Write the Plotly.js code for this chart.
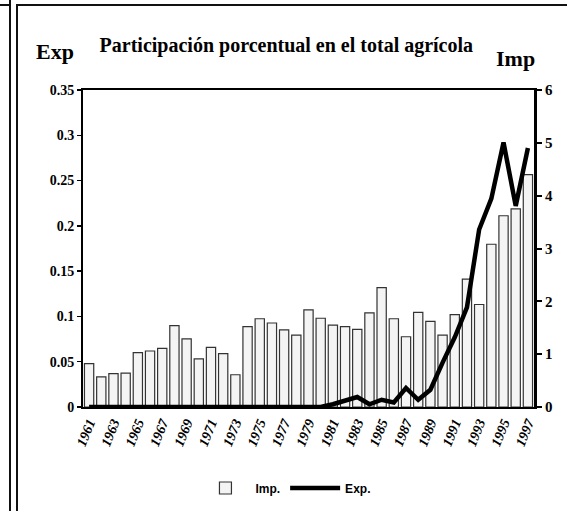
<!DOCTYPE html>
<html>
<head>
<meta charset="utf-8">
<script src="https://cdn.plot.ly/plotly-3.0.1.min.js"></script>
<style>
html,body{margin:0;padding:0;background:#fff;}
#wrap{position:relative;width:567px;height:511px;overflow:hidden;}
#chart{position:absolute;left:0;top:0;width:567px;height:511px;}
.ln{position:absolute;background:#111;}
</style>
</head>
<body>
<div id="wrap">
<div id="chart"></div>
<div class="ln" style="left:9px;top:0;width:2px;height:511px;"></div>
<div class="ln" style="left:0;top:4px;width:10px;height:2px;"></div>
<div class="ln" style="left:16px;top:4px;width:551px;height:2px;"></div>
<div class="ln" style="left:16px;top:4px;width:2px;height:507px;"></div>
</div>
<script>
const years = [1961,1962,1963,1964,1965,1966,1967,1968,1969,1970,1971,1972,1973,1974,1975,1976,1977,1978,1979,1980,1981,1982,1983,1984,1985,1986,1987,1988,1989,1990,1991,1992,1993,1994,1995,1996,1997];
const impValues = [0.82,0.57,0.63,0.64,1.03,1.06,1.11,1.54,1.29,0.91,1.13,1.01,0.61,1.52,1.67,1.59,1.46,1.36,1.84,1.68,1.55,1.52,1.47,1.78,2.26,1.67,1.33,1.79,1.62,1.36,1.75,2.42,1.94,3.08,3.62,3.75,4.4];
const expValues = [0,0,0,0,0,0,0,0,0,0.001,0,0,0,0,0,0,0,0,0,0,0.003,0.007,0.011,0.003,0.008,0.005,0.021,0.008,0.019,0.049,0.077,0.11,0.196,0.23,0.292,0.222,0.286];
const xTickLabels = ["1961","1963","1965","1967","1969","1971","1973","1975","1977","1979","1981","1983","1985","1987","1989","1991","1993","1995","1997"];
const xTickVals = [1961,1963,1965,1967,1969,1971,1973,1975,1977,1979,1981,1983,1985,1987,1989,1991,1993,1995,1997];
const leftTicks = [0,0.05,0.1,0.15,0.2,0.25,0.3,0.35];
const leftTickLabels = ["0","0.05","0.1","0.15","0.2","0.25","0.3","0.35"];
const rightTicks = [0,1,2,3,4,5,6];
const rightTickLabels = ["0","1","2","3","4","5","6"];

const serif = "Liberation Serif, Times New Roman, serif";

const traces = [
  {
    type: 'bar', name: 'Imp.', x: years, y: impValues, yaxis: 'y',
    marker: {color: '#f4f4f4', line: {color: '#333', width: 1.2}},
    hoverinfo: 'x+y'
  },
  {
    type: 'scatter', mode: 'lines', name: 'Exp.', x: years, y: expValues, yaxis: 'y2',
    line: {color: '#000', width: 4.5}
  }
];

const layout = {
  width: 567, height: 511,
  margin: {l: 83, r: 33, t: 90, b: 104, autoexpand: false},
  paper_bgcolor: '#fff', plot_bgcolor: '#fff',
  showlegend: true,
  bargap: 0.24,
  title: {
    text: 'Participación porcentual en el total agrícola',
    font: {family: serif, size: 20, color: '#000', weight: 'bold'},
    x: 0.505, xanchor: 'center', y: 0.912, yanchor: 'middle'
  },
  xaxis: {
    range: [1960.5, 1997.5],
    tickmode: 'array', tickvals: xTickVals, ticktext: xTickLabels,
    tickangle: -68,
    tickfont: {family: serif, size: 14, color: '#000', weight: 'bold', style: 'italic'},
    showgrid: false, zeroline: false,
    showline: true, linecolor: '#000', linewidth: 2, mirror: true,
    ticks: '', fixedrange: true
  },
  yaxis: {
    side: 'right', range: [0, 6],
    tickmode: 'array', tickvals: rightTicks, ticktext: rightTickLabels,
    tickfont: {family: serif, size: 15, color: '#000', weight: 'bold'},
    showgrid: false, zeroline: false,
    showline: true, linecolor: '#000', linewidth: 3,
    ticks: 'outside', ticklen: 5, tickwidth: 2, tickcolor: '#000'
  },
  yaxis2: {
    side: 'left', overlaying: 'y', range: [0, 0.35],
    tickmode: 'array', tickvals: leftTicks, ticktext: leftTickLabels,
    tickfont: {family: serif, size: 14, color: '#000', weight: 'bold'},
    showgrid: false, zeroline: false,
    showline: true, linecolor: '#000', linewidth: 2,
    ticks: 'outside', ticklen: 4, tickwidth: 1.5, tickcolor: '#000'
  },
  legend: {
    orientation: 'h', x: 0.45, xanchor: 'center', yref: 'container', y: 0.045, yanchor: 'middle',
    font: {family: 'Liberation Sans, Arial, sans-serif', size: 12, color: '#000', weight: 'bold'},
    itemwidth: 50, bgcolor: 'rgba(0,0,0,0)'
  },
  annotations: [
    {text: 'Exp', xref: 'paper', yref: 'paper', x: -0.062, y: 1.12, xanchor: 'center', yanchor: 'middle',
     showarrow: false, font: {family: serif, size: 22, color: '#000', weight: 'bold'}},
    {text: 'Imp', xref: 'paper', yref: 'paper', x: 0.958, y: 1.10, xanchor: 'center', yanchor: 'middle',
     showarrow: false, font: {family: serif, size: 22, color: '#000', weight: 'bold'}}
  ]
};

Plotly.newPlot('chart', traces, layout, {displayModeBar: false, staticPlot: true});
</script>
</body>
</html>
